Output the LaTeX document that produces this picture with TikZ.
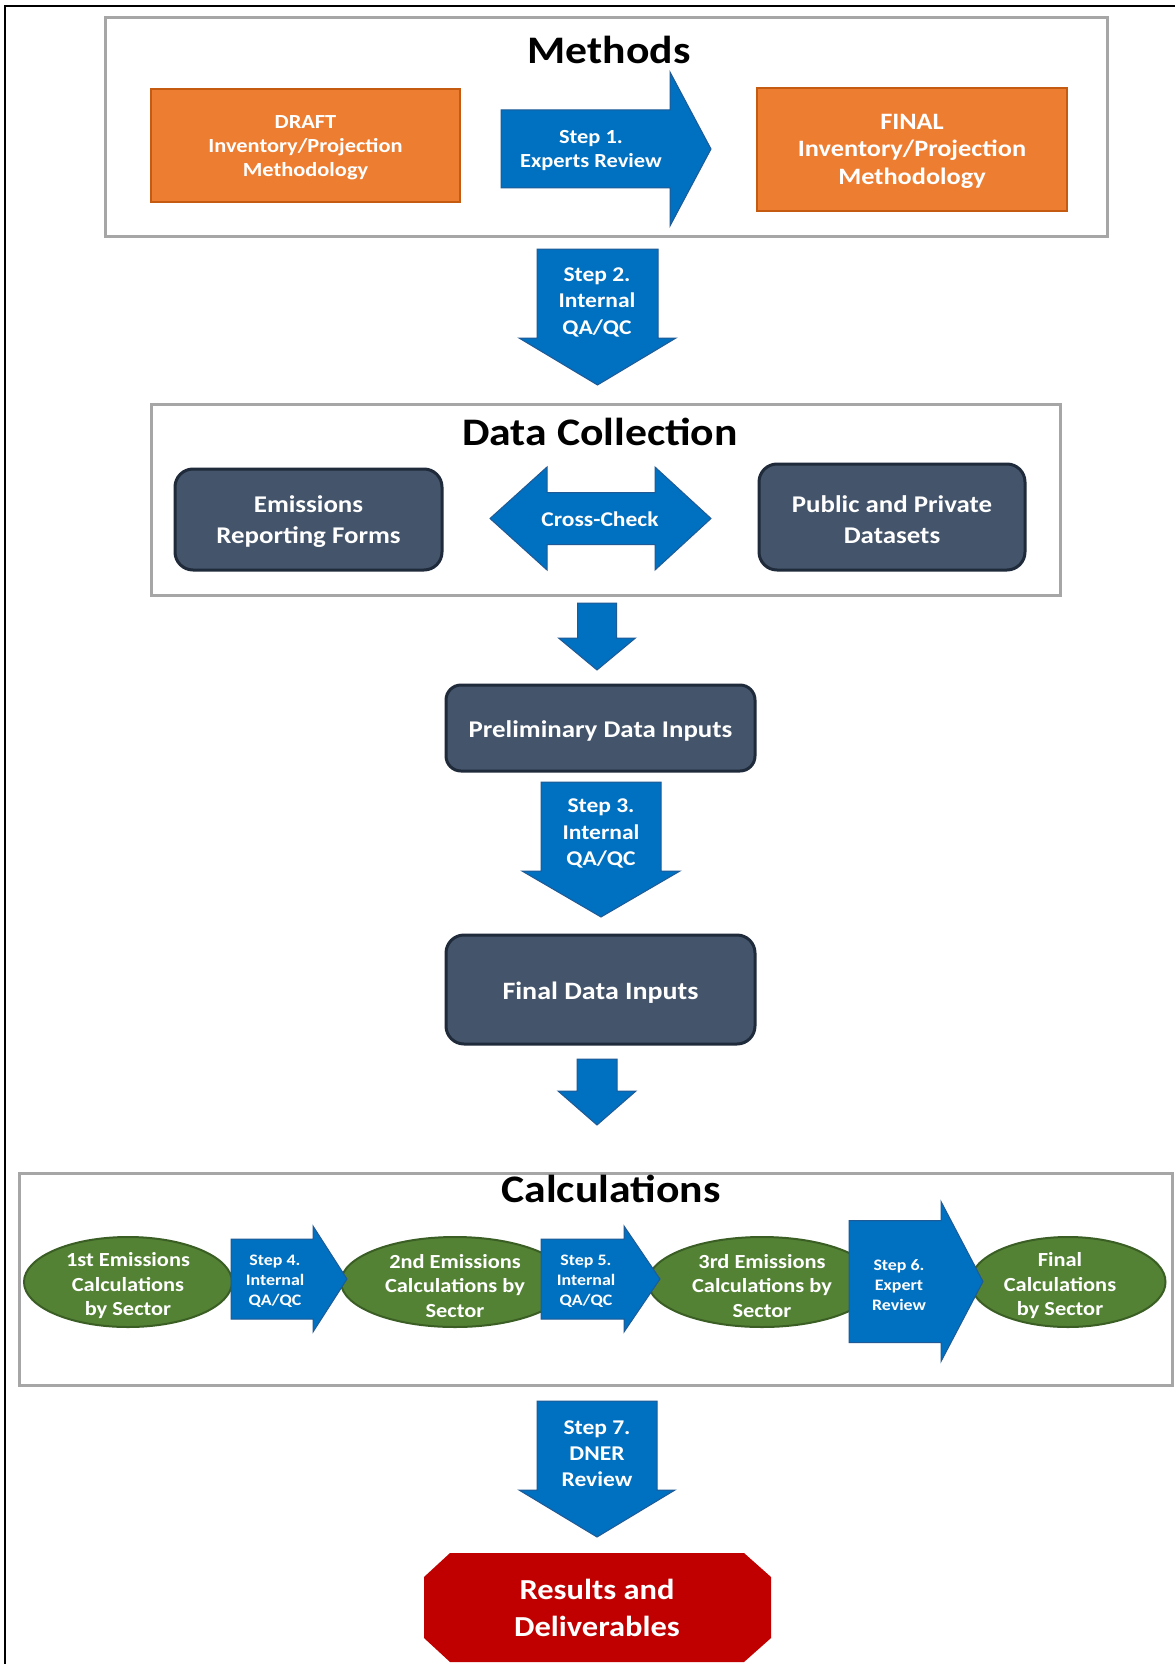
\documentclass[tikz,border=0pt]{standalone}
\usepackage{fontspec}
\setmainfont{Carlito}[FakeStretch=1.12]
\usetikzlibrary{shapes.geometric}
\definecolor{orng}{HTML}{ED7D31}
\definecolor{orngd}{HTML}{C55A11}
\definecolor{blu}{HTML}{0070C0}
\definecolor{blud}{HTML}{1F5A96}
\definecolor{slate}{HTML}{44546A}
\definecolor{slated}{HTML}{1F2A3A}
\definecolor{grn}{HTML}{548235}
\definecolor{grnd}{HTML}{3A5E24}
\definecolor{redd}{HTML}{C00000}
\definecolor{frm}{HTML}{A6A6A6}
\newcommand\RArrow[6]{% x0 x1 x2 yc hb hh
 \filldraw[blockarr] (#1,#4-#5) -- (#2,#4-#5) -- (#2,#4-#6) -- (#3,#4) -- (#2,#4+#6) -- (#2,#4+#5) -- (#1,#4+#5) -- cycle;}
\newcommand\DArrow[6]{% xc y0 y1 y2 hb hh
 \filldraw[blockarr] (#1-#5,#2) -- (#1+#5,#2) -- (#1+#5,#3) -- (#1+#6,#3) -- (#1,#4) -- (#1-#6,#3) -- (#1-#5,#3) -- cycle;}
\tikzset{
 frame/.style={draw=frm, line width=3pt},
 obox/.style={fill=orng, draw=orngd, line width=2pt, text=white, align=center, inner sep=0pt},
 sbox/.style={fill=slate, draw=slated, line width=3pt, rounded corners=18pt, text=white, align=center, inner sep=0pt},
 gell/.style={ellipse, fill=grn, draw=grnd, line width=2pt, inner sep=0pt},
 blockarr/.style={fill=blu, draw=blud, line width=1pt, line join=miter},
 wt/.style={text=white, align=center, inner sep=0pt},
 title/.style={text=black, inner sep=0pt, font=\fontsize{39}{44}\selectfont\bfseries},
}
\begin{document}
\begin{tikzpicture}[x=1pt,y=-1pt]
\useasboundingbox (0,0) rectangle (1175,1664);
\fill[white] (0,0) rectangle (1175,1664);
\draw[black, line width=2.5pt] (5,1664) -- (5,6) -- (1175,6);

% ---------- Methods ----------
\draw[frame] (105,18) rectangle (1107,236);
\node[title] (tmethods) at (609,50) {Methods};
\node[obox, minimum width=309pt, minimum height=113pt, font=\fontsize{20}{24}\selectfont\bfseries] (draft) at (305.5,145.5) {};
\node[wt, font=\fontsize{20}{24}\selectfont\bfseries] (draftt) at (305.5,148) {DRAFT\\Inventory/Projection\\Methodology};
\node[obox, minimum width=310pt, minimum height=123pt] (final) at (912,149.5) {};
\node[wt, font=\fontsize{23.5}{27.5}\selectfont\bfseries] (finalt) at (912,151) {FINAL\\Inventory/Projection\\Methodology};
\RArrow{501}{670}{711}{149}{39}{77}
\node[wt, font=\fontsize{20}{24}\selectfont\bfseries] (s1) at (591,151) {Step 1.\\Experts Review};

\DArrow{597.5}{249}{338}{385}{60.5}{78.5}
\node[wt, font=\fontsize{21}{26.5}\selectfont\bfseries] (s2) at (597,302) {Step 2.\\Internal\\QA/QC};

% ---------- Data Collection ----------
\draw[frame] (151,404) rectangle (1060,595);
\node[title] (tdata) at (600,432) {Data Collection};
\node[sbox, minimum width=267pt, minimum height=101pt] (erf) at (308.5,519.5) {};
\node[wt, font=\fontsize{24}{31}\selectfont\bfseries] (erft) at (308.5,522) {Emissions\\Reporting Forms};
\node[sbox, minimum width=266pt, minimum height=106pt] (ppd) at (892,517) {};
\node[wt, font=\fontsize{24}{31}\selectfont\bfseries] (ppdt) at (892,520) {Public and Private\\Datasets};
\filldraw[blockarr] (490,518.5) -- (547,467) -- (547,492.5) -- (655,492.5) -- (655,467) -- (711,518.5) -- (655,570) -- (655,544.5) -- (547,544.5) -- (547,570) -- cycle;
\node[wt, font=\fontsize{21}{25}\selectfont\bfseries] (cc) at (600,519) {Cross-Check};

\DArrow{597}{603}{638}{670}{19.5}{38.5}
\node[sbox, rounded corners=15pt, minimum width=309pt, minimum height=86pt] (pdi) at (600.5,728) {};
\node[wt, font=\fontsize{24}{29}\selectfont\bfseries] (pdit) at (600.5,730.5) {Preliminary Data Inputs};

\DArrow{601}{782}{871}{917}{60}{79}
\node[wt, font=\fontsize{21}{26.5}\selectfont\bfseries] (s3) at (601,833.5) {Step 3.\\Internal\\QA/QC};

\node[sbox, minimum width=309pt, minimum height=109pt] (fdi) at (600.5,989.5) {};
\node[wt, font=\fontsize{25}{30}\selectfont\bfseries] (fdit) at (600.5,993) {Final Data Inputs};
\DArrow{597}{1059}{1091}{1125}{20}{39}

% ---------- Calculations ----------
\draw[frame] (19,1173) rectangle (1172,1385);
\node[title] (tcalc) at (611,1189) {Calculations};
\node[gell, minimum width=208pt, minimum height=90pt] (e1) at (128,1282) {};
\node[gell, minimum width=228pt, minimum height=90pt] (e2) at (455,1282) {};
\node[gell, minimum width=228pt, minimum height=90pt] (e3) at (762,1282) {};
\node[gell, minimum width=195pt, minimum height=90pt] (e4) at (1068,1282) {};
\RArrow{231}{313}{347}{1279}{40}{53}
\RArrow{541}{624}{660}{1279}{40}{53}
\RArrow{849}{941}{983}{1281.5}{61}{80}
\node[wt, font=\fontsize{20}{24.5}\selectfont\bfseries] (t1) at (128,1286) {1st Emissions\\Calculations\\by Sector};
\node[wt, font=\fontsize{20}{24.5}\selectfont\bfseries] (t2) at (455,1286) {2nd Emissions\\Calculations by\\Sector};
\node[wt, font=\fontsize{20}{24.5}\selectfont\bfseries] (t3) at (762,1286) {3rd Emissions\\Calculations by\\Sector};
\node[wt, font=\fontsize{20}{24.5}\selectfont\bfseries] (t4) at (1060,1286) {Final\\Calculations\\by Sector};
\node[wt, font=\fontsize{16}{20}\selectfont\bfseries] (s4) at (275,1281) {Step 4.\\Internal\\QA/QC};
\node[wt, font=\fontsize{16}{20}\selectfont\bfseries] (s5) at (586,1281) {Step 5.\\Internal\\QA/QC};
\node[wt, font=\fontsize{16}{20}\selectfont\bfseries] (s6) at (899,1285) {Step 6.\\Expert\\Review};

\DArrow{597}{1401}{1490}{1537}{60}{78}
\node[wt, font=\fontsize{21}{26}\selectfont\bfseries] (s7) at (597,1453.5) {Step 7.\\DNER\\Review};

% ---------- Results ----------
\fill[redd] (450,1553) -- (744,1553) -- (771,1577) -- (771,1638) -- (744,1662) -- (450,1662) -- (424,1638) -- (424,1577) -- cycle;
\node[wt, font=\fontsize{29}{37}\selectfont\bfseries] (res) at (597,1608) {Results and\\Deliverables};
\end{tikzpicture}
\end{document}
